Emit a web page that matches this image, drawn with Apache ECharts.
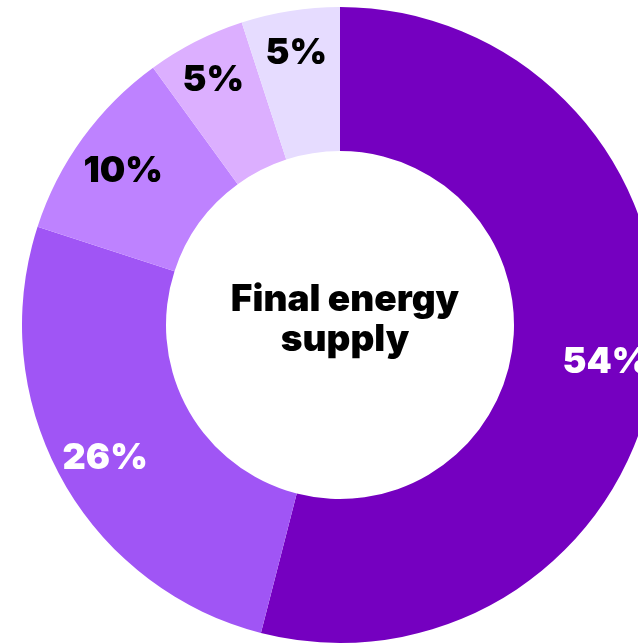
<!DOCTYPE html>
<html>
<head>
<meta charset="utf-8">
<script src="https://cdn.jsdelivr.net/npm/echarts@6/dist/echarts.min.js"></script>
<style>
  html, body { margin: 0; padding: 0; background: #fff; }
  #chart { width: 638px; height: 643px; }
</style>
</head>
<body>
<div id="chart"></div>
<script>
// Shares of final energy supply, clockwise from the top
const categories = ['A', 'B', 'C', 'D', 'E'];
const shares = [54, 26, 10, 5, 5];
const sliceColors = ['#7500C0', '#A055F5', '#BE82FF', '#DCAFFF', '#E6DCFF'];
const labelColors = ['#ffffff', '#ffffff', '#000000', '#000000', '#000000'];
const centerTitle = 'Final energy\nsupply';

const FONT = 'Inter, "Noto Sans", sans-serif';
const center = [340, 325];
const labelCenter = [340, 329];

const ringData = categories.map((name, i) => ({
  name,
  value: shares[i],
  itemStyle: { color: sliceColors[i] }
}));

// Invisible rings that carry the percentage labels; labels of narrow
// slices sit on a slightly wider ring so they clear the inner edge.
function labelRing(radius, keep) {
  return {
    type: 'pie',
    center: labelCenter,
    radius: radius,
    startAngle: 90,
    clockwise: true,
    silent: true,
    itemStyle: { color: 'rgba(0,0,0,0)' },
    label: {
      show: true,
      position: 'inside',
      formatter: p => p.value + '%',
      fontFamily: FONT,
      fontWeight: 900,
      fontSize: 36
    },
    labelLine: { show: false },
    data: categories.map((name, i) => ({
      name,
      value: shares[i],
      label: { show: keep(shares[i]), color: labelColors[i] }
    }))
  };
}

const chart = echarts.init(document.getElementById('chart'), null, { renderer: 'canvas' });
chart.setOption({
  animation: false,
  title: {
    text: centerTitle,
    left: center[0],
    top: 315,
    textAlign: 'center',
    textVerticalAlign: 'middle',
    textStyle: {
      fontFamily: FONT,
      fontWeight: 900,
      fontSize: 37,
      lineHeight: 40,
      color: '#000'
    }
  },
  series: [
    {
      type: 'pie',
      center: center,
      radius: [174, 318],
      startAngle: 90,
      clockwise: true,
      silent: true,
      label: { show: false },
      labelLine: { show: false },
      itemStyle: { borderWidth: 0 },
      data: ringData
    },
    labelRing([253, 277], v => v >= 10),
    labelRing([266, 286], v => v < 10)
  ]
});
</script>
</body>
</html>
